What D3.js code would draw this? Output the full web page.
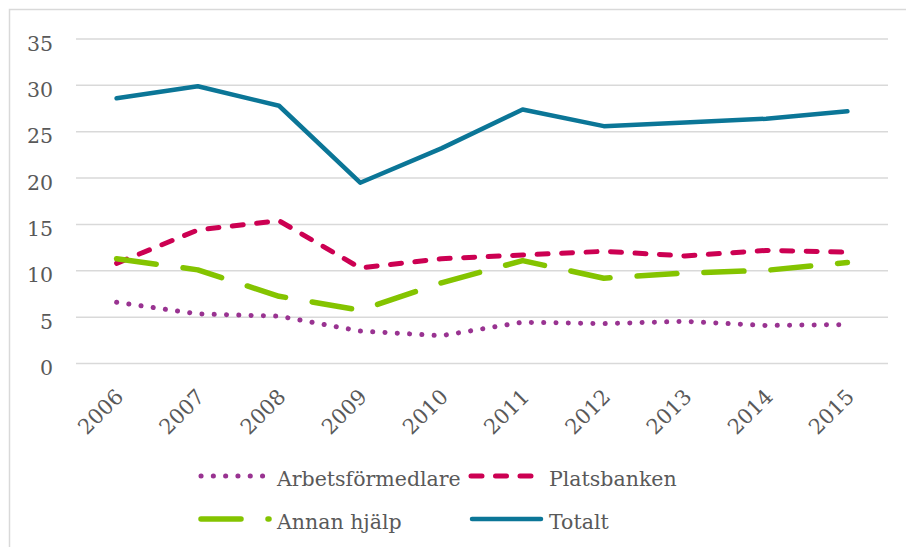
<!DOCTYPE html>
<html>
<head>
<meta charset="utf-8">
<script src="https://cdn.jsdelivr.net/npm/d3@7"></script>
<style>
  body { margin: 0; background: #fff; }
  svg text { font-family: "DejaVu Serif", "Liberation Serif", serif; fill: #595959; }
</style>
</head>
<body>
<script>
// chart data
var years = ["2006","2007","2008","2009","2010","2011","2012","2013","2014","2015"];
var arbetsformedlare = [6.6, 5.35, 5.1, 3.5, 3.0, 4.45, 4.3, 4.55, 4.1, 4.2];
var platsbanken = [10.8, 14.4, 15.4, 10.3, 11.3, 11.7, 12.1, 11.6, 12.2, 12.0];
var annanHjalp = [11.3, 10.1, 7.25, 5.75, 8.7, 11.1, 9.2, 9.75, 10.05, 10.9];
var totalt = [28.6, 29.9, 27.8, 19.5, 23.2, 27.4, 25.6, 26.0, 26.4, 27.2];
var yTicks = [0, 5, 10, 15, 20, 25, 30, 35];

var width = 906, height = 547;

var series = [
  { name: "Arbetsförmedlare", values: arbetsformedlare, color: "#993391", w: 5, dash: "0.1 12.2" },
  { name: "Platsbanken", values: platsbanken, color: "#cc0052", w: 5, dash: "11 13.5" },
  { name: "Annan hjälp", values: annanHjalp, color: "#84c400", w: 5.5, dash: "40 27" },
  { name: "Totalt", values: totalt, color: "#0b7697", w: 4.5, dash: null }
];

var svg = d3.select("body").append("svg")
    .attr("width", width)
    .attr("height", height);

// outer frame (only top and left edges visible in the shot)
svg.append("rect")
    .attr("x", 9.5).attr("y", 9.5)
    .attr("width", width + 20).attr("height", height + 20)
    .attr("fill", "none")
    .attr("stroke", "#d9d9d9")
    .attr("stroke-width", 1.5);

var x = d3.scaleBand()
    .domain(years)
    .range([76, 888]);

var y = d3.scaleLinear()
    .domain([0, 35])
    .range([363.5, 39]);

// gridlines
svg.append("g").selectAll("line")
    .data(yTicks)
    .enter().append("line")
    .attr("x1", 76).attr("x2", 888)
    .attr("y1", function(d) { return y(d); })
    .attr("y2", function(d) { return y(d); })
    .attr("stroke", "#d9d9d9")
    .attr("stroke-width", 1.5);

// y labels
svg.append("g").selectAll("text")
    .data(yTicks)
    .enter().append("text")
    .attr("x", 53)
    .attr("y", function(d) { return y(d) + 11.5; })
    .attr("text-anchor", "end")
    .style("font-size", "20.5px")
    .text(function(d) { return d; });

// x labels, rotated
svg.append("g").selectAll("text")
    .data(years)
    .enter().append("text")
    .attr("text-anchor", "end")
    .attr("transform", function(d) {
      return "translate(" + (x(d) + x.bandwidth() / 2 + 8) + ",398) rotate(-45)";
    })
    .style("font-size", "21px")
    .text(function(d) { return d; });

var line = d3.line()
    .x(function(d, i) { return x(years[i]) + x.bandwidth() / 2; })
    .y(function(d) { return y(d); });

svg.append("g").selectAll("path")
    .data(series)
    .enter().append("path")
    .attr("d", function(s) { return line(s.values); })
    .attr("fill", "none")
    .attr("stroke", function(s) { return s.color; })
    .attr("stroke-width", function(s) { return s.w; })
    .attr("stroke-linecap", "round")
    .attr("stroke-linejoin", "round")
    .attr("stroke-dasharray", function(s) { return s.dash; });

// legend
var legendPos = [[201, 476], [471, 476], [201, 519], [471, 519]];
var legend = svg.append("g").selectAll("g")
    .data(series)
    .enter().append("g")
    .attr("transform", function(s, i) { return "translate(" + legendPos[i][0] + "," + legendPos[i][1] + ")"; });

legend.append("path")
    .attr("d", function(s) { return s.dash ? "M0,0H68" : "M1,0H70"; })
    .attr("fill", "none")
    .attr("stroke", function(s) { return s.color; })
    .attr("stroke-width", function(s) { return s.w; })
    .attr("stroke-linecap", "round")
    .attr("stroke-dasharray", function(s) { return s.dash; });

legend.append("text")
    .attr("x", function(s, i) { return i % 2 ? 78 : 76; })
    .attr("y", 9.5)
    .style("font-size", "20.5px")
    .text(function(s) { return s.name; });
</script>
</body>
</html>
